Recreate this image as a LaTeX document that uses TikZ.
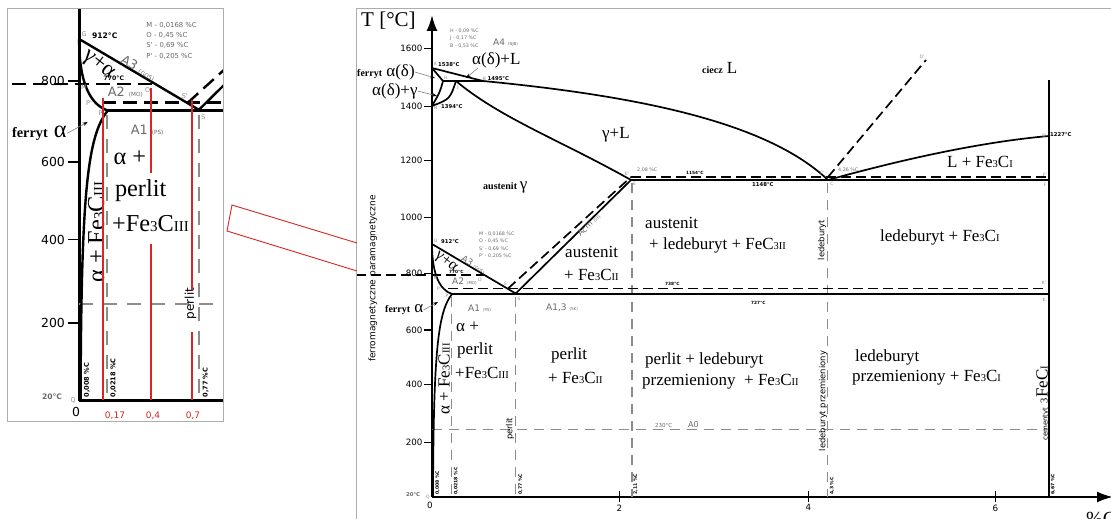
\documentclass[tikz,border=0pt]{standalone}
\usepackage{fontspec}
\setmainfont{Liberation Serif}
\newfontfamily\dvs{DejaVu Sans}
\usetikzlibrary{arrows.meta}

\definecolor{dgray}{gray}{0.42}
\definecolor{lgray}{gray}{0.55}
\definecolor{framec}{gray}{0.68}
\definecolor{ired}{RGB}{214,38,38}

\newcommand\subsz[1]{{\fontsize{10.5}{12}\selectfont #1}}
\newcommand\tinysz[1]{{\fontsize{4}{5}\selectfont #1}}

\tikzset{
  ax/.style={line width=2.2pt},
  tickln/.style={line width=1.2pt},
  phase/.style={line width=1.7pt},
  bdash/.style={line width=1.7pt, dash pattern=on 10pt off 5pt},
  gdash/.style={line width=1.3pt, draw=lgray, dash pattern=on 10pt off 7pt},
  big/.style={font=\fontsize{17}{20}\selectfont, inner sep=0pt, anchor=west},
  ptl/.style={font=\dvs\fontsize{4.5}{5}\selectfont, text=lgray, inner sep=0pt},
  tmp/.style={font=\dvs\bfseries\fontsize{5.3}{6}\selectfont, inner sep=0pt, anchor=west},
  tmps/.style={font=\dvs\bfseries\fontsize{4.3}{5}\selectfont, inner sep=0pt, anchor=west},
  note/.style={font=\dvs\fontsize{4.8}{6}\selectfont, text=dgray, inner sep=0pt, anchor=west},
  pct/.style={font=\dvs\bfseries\fontsize{4.6}{5}\selectfont, inner sep=0pt, rotate=90, anchor=west},
  ytick/.style={font=\dvs\fontsize{8.7}{10}\selectfont, inner sep=1pt, anchor=east},
  xtick/.style={font=\dvs\fontsize{8.7}{10}\selectfont, inner sep=0pt},
  crit/.style={font=\dvs\fontsize{9}{10}\selectfont, text=dgray, inner sep=0pt, anchor=west},
  side/.style={font=\dvs\fontsize{8.4}{10}\selectfont, inner sep=0pt, rotate=90},
  lead/.style={line width=0.6pt, draw=gray, -{Stealth[length=5pt,width=3.5pt,color=black]}},
  redln/.style={draw=ired, line width=2.6pt},
}

% The iron-carbon diagram; #1 prefixes every name so it can be drawn twice
\newcommand\fediagram[1]{%
  % characteristic points
  \coordinate (#1A) at (432,68);
  \coordinate (#1H) at (443,81);
  \coordinate (#1J) at (456,81);
  \coordinate (#1B) at (483,81);
  \coordinate (#1N) at (432,106);
  \coordinate (#1E) at (631,180);
  \coordinate (#1Ep) at (631,177);
  \coordinate (#1C) at (828,180);
  \coordinate (#1Cp) at (828,177);
  \coordinate (#1F) at (1049,180);
  \coordinate (#1Fp) at (1049,177);
  \coordinate (#1D) at (1049,136);
  \coordinate (#1Dp) at (926,60);
  \coordinate (#1G) at (432,244);
  \coordinate (#1S) at (515.7,293.5);
  \coordinate (#1Sp) at (508,288.5);
  \coordinate (#1P) at (452,294);
  \coordinate (#1Pp) at (448,288.5);
  \coordinate (#1K) at (1049,294);
  \coordinate (#1Kp) at (1049,288.5);
  \coordinate (#1O) at (485,275.3);
  \coordinate (#1Mw) at (356,275.3);
  \coordinate (#1Q) at (433,497);
  \coordinate (#1cb) at (1049,497);
  \coordinate (#1ct) at (1049,80);
  % axes
  \coordinate (#1o) at (432,497);
  \coordinate (#1yt) at (432,15);
  \coordinate (#1xt) at (1113,497);
  \draw[ax, -{Latex[length=16pt,width=11pt]}] (#1o) -- (#1yt);
  \draw[ax, -{Latex[length=16pt,width=11pt]}] (#1o) -- (#1xt);
  \foreach \t/\y in {1600/48.7,1400/106.7,1200/160.7,1000/217.3,800/273.3,600/330,400/384.3,200/442.7}
    {\draw[tickln] (424,\y) -- (432,\y) node[ytick, pos=0, name=#1y\t] {\t};}
  \foreach \t/\x in {2/619.3,4/808.3,6/995.3}
    {\draw[tickln] (\x,491) -- (\x,502) node[xtick, below=2pt, name=#1x\t] {\t};}
  \node[xtick] (#1x0) at (430,505) {0};
  \node[font=\fontsize{21}{24}\selectfont, inner sep=0pt, anchor=west] (#1Tl) at (361,21) {T [°C]};
  \node[font=\fontsize{20}{24}\selectfont, inner sep=0pt, anchor=west] (#1Cl) at (1086,519) {\%C};
  % reference lines (grey, dashed)
  \coordinate (#1g1t) at (451.7,297); \coordinate (#1g1b) at (451.7,497);
  \coordinate (#1g2t) at (515.7,297); \coordinate (#1g2b) at (515.7,497);
  \coordinate (#1g3t) at (632,183);   \coordinate (#1g3b) at (632,497);
  \coordinate (#1g4t) at (827.7,183); \coordinate (#1g4b) at (827.7,497);
  \coordinate (#1g5l) at (432,429.3); \coordinate (#1g5r) at (1049,429.3);
  \draw[gdash] (#1g1t) -- (#1g1b);
  \draw[gdash] (#1g2t) -- (#1g2b);
  \draw[gdash] (#1g3t) -- (#1g3b);
  \draw[gdash] (#1g4t) -- (#1g4b);
  \draw[gdash] (#1g5l) -- (#1g5r);
  % phase boundaries
  \draw[phase] (#1A) -- (#1H) .. controls (440,92) .. (#1N);
  \draw[phase] (#1H) -- (#1B);
  \draw[phase] (#1N) .. controls (450,99) .. (#1J);
  \draw[phase] (#1A) -- (#1B) .. controls (650,97) and (770,125) .. (#1C);
  \draw[phase] (#1J) .. controls (500,118) and (560,140) .. (#1E);
  \draw[phase] (#1E) -- (#1F);
  \draw[bdash] (#1Ep) -- (#1Fp);
  \draw[phase] (#1C) .. controls (900,160) and (980,142) .. (#1D);
  \draw[bdash] (#1Cp) -- (#1Dp);
  \draw[phase] (#1cb) -- (#1ct);
  \draw[phase] (#1G) -- (#1S) -- (#1E);
  \draw[bdash] (#1Sp) -- (#1Ep);
  \draw[phase] (#1G) .. controls (432,275) and (440,290) .. (#1P)
               .. controls (438,312) and (433.5,350) .. (#1Q);
  \draw[phase] (#1P) -- (#1K);
  \draw[bdash] (#1Pp) -- (#1Kp);
  \draw[bdash] (#1Mw) -- (#1O);
  % phase fields
  \node[big] (#1fa) at (456,327) {α +};
  \node[big] (#1fb) at (457,350) {perlit};
  \node[big] (#1fc) at (455,373) {+Fe\subsz{3}C\subsz{III}};
  \node[big, rotate=90, anchor=center] (#1fd) at (444,379) {α + Fe\subsz{3}C\subsz{III}};
  \node[big] (#1fe) at (551,355) {perlit};
  \node[big] (#1ff) at (548,378) {+ Fe\subsz{3}C\subsz{II}};
  \node[big] (#1fg) at (565,252) {austenit};
  \node[big] (#1fh) at (564,275) {+ Fe\subsz{3}C\subsz{II}};
  \node[big] (#1fi) at (645,223) {austenit};
  \node[big] (#1fj) at (649,245) {+ ledeburyt + FeC\subsz{3II}};
  \node[big] (#1fk) at (880,237) {ledeburyt + Fe\subsz{3}C\subsz{I}};
  \node[big] (#1fl) at (645,360) {perlit + ledeburyt};
  \node[big] (#1fm) at (642,382) {przemieniony \ + Fe\subsz{3}C\subsz{II}};
  \node[big] (#1fn) at (855,357) {ledeburyt};
  \node[big] (#1fo) at (852,378) {przemieniony + Fe\subsz{3}C\subsz{I}};
  \node[big] (#1fp) at (947,162) {L + Fe\subsz{3}C\subsz{I}};
  \node[big] (#1fq) at (602,135) {γ+L};
  \node[big] (#1fr) at (702,68) {{\bfseries\fontsize{10}{12}\selectfont ciecz} L};
  \node[big] (#1fs) at (483,187) {{\bfseries\fontsize{10}{12}\selectfont austenit}\,γ};
  \node[big] (#1ft) at (472,60) {α(δ)+L};
  \node[big] (#1fu) at (357,72) {{\bfseries\fontsize{10}{12}\selectfont ferryt} α(δ)};
  \node[big] (#1fv) at (372,91) {α(δ)+γ};
  \node[big] (#1fw) at (385,310) {{\bfseries\fontsize{10}{12}\selectfont ferryt} α};
  \node[font=\fontsize{16}{18}\selectfont, inner sep=0pt, rotate=-38] (#1fx) at (446,262) {γ+α};
  % leaders to the narrow fields
  \coordinate (#1la) at (435,78);
  \coordinate (#1lb) at (437,96);
  \coordinate (#1lc) at (466,78);
  \coordinate (#1ld) at (438,302);
  \draw[lead] (#1fu.east) -- (#1la);
  \draw[lead] (#1fv.east) -- (#1lb);
  \draw[lead] ([xshift=6pt]#1ft.south west) -- (#1lc);
  \draw[lead] (#1fw.east) -- (#1ld);
  % point letters and temperatures
  \node[ptl] (#1pA) at (435.5,64) {A};
  \node[tmp] (#1tA) at (438,64.5) {1538°C};
  \node[ptl] (#1pH) at (445.5,78) {H};
  \node[ptl] (#1pJ) at (458,87) {J};
  \node[ptl] (#1pB) at (484.5,79) {B};
  \node[tmp] (#1tB) at (487.5,79) {1495°C};
  \node[ptl] (#1pN) at (435.5,108) {N};
  \node[tmp] (#1tN) at (441,107) {1394°C};
  \node[ptl] (#1pG) at (435.5,241) {G};
  \node[tmp] (#1tG) at (441,242) {912°C};
  \node[tmps] (#1tM) at (449,271.5) {770°C};
  \node[ptl] (#1pM) at (435.5,278) {M};
  \node[ptl] (#1pO) at (480,280) {O};
  \node[ptl] (#1pSp) at (506,284) {S'};
  \node[ptl] (#1pPp) at (439,289) {P'};
  \node[ptl] (#1pP) at (447,296) {P};
  \node[ptl] (#1pS) at (519,299) {S};
  \node[ptl] (#1pEp) at (627,174) {E'};
  \node[ptl] (#1pE) at (634.5,184) {E};
  \node[ptl] (#1pCp) at (822,173) {C'};
  \node[ptl] (#1pC) at (832,184) {C};
  \node[ptl] (#1pFp) at (1045,175) {F'};
  \node[ptl] (#1pF) at (1045,185) {F};
  \node[ptl] (#1pKp) at (1044,283) {K'};
  \node[ptl] (#1pK) at (1044,300) {K};
  \node[ptl] (#1pD) at (1044,136) {D};
  \node[tmp] (#1tD) at (1050,135) {1227°C};
  \node[ptl] (#1pDp) at (922,57) {D'};
  \node[ptl] (#1pQ) at (428,497) {Q};
  \node[tmp, text=dgray] (#1tQ) at (406,494.5) {20°C};
  \node[tmps] (#1tEp) at (686,173) {1154°C};
  \node[tmp] (#1tE) at (752,185) {1148°C};
  \node[tmps] (#1tSp) at (665,284) {738°C};
  \node[tmps] (#1tS) at (751,302.5) {727°C};
  \node[note] (#1cE) at (637,170) {2,08 \%C};
  \node[note] (#1cC) at (838,170) {4,26 \%C};
  % composition notes
  \node[note] (#1nH) at (450,30.7) {H - 0,09 \%C};
  \node[note] (#1nJ) at (450,38.3) {J - 0,17 \%C};
  \node[note] (#1nB) at (450,45.7) {B - 0,53 \%C};
  \node[note] (#1nM) at (479,234.3) {M - 0,0168 \%C};
  \node[note] (#1nO) at (479,241.3) {O - 0,45 \%C};
  \node[note] (#1nS) at (479,248.7) {S' - 0,69 \%C};
  \node[note] (#1nP) at (479,256) {P' - 0,205 \%C};
  % critical lines
  \node[crit] (#1a4) at (493,43) {A4 \tinysz{(NJB)}};
  \node[crit, rotate=-31] (#1a3) at (462,257.5) {A3 \tinysz{(GOS)}};
  \node[crit] (#1a2) at (452,281) {A2 \tinysz{(MO)}};
  \node[crit] (#1a1) at (468,308) {A1 \tinysz{(PS)}};
  \node[crit] (#1a13) at (546,308) {A1,3 \tinysz{(SK)}};
  \node[crit, font=\dvs\fontsize{8}{9}\selectfont, rotate=44, anchor=center] (#1acm) at (589,225) {Acm \tinysz{(SE)}};
  \node[note, font=\dvs\fontsize{5.5}{6}\selectfont] (#1t0) at (655,425) {230°C};
  \node[crit, font=\dvs\fontsize{8}{9}\selectfont] (#1a0) at (688,424.5) {A0};
  % compositions along the axis
  \node[pct] (#1c1) at (437.5,495) {0,008 \%C};
  \node[pct] (#1c2) at (456,495) {0,0218 \%C};
  \node[pct] (#1c3) at (520.5,495) {0,77 \%C};
  \node[pct] (#1c4) at (635.5,495) {2,11 \%C};
  \node[pct] (#1c5) at (832,495) {4,3 \%C};
  \node[pct] (#1c6) at (1053,495) {6,67 \%C};
  % structures along the vertical lines
  \node[side] (#1s1) at (510,429) {perlit};
  \node[side] (#1s2) at (822,240) {ledeburyt};
  \node[side] (#1s3) at (823,401) {ledeburyt przemieniony};
  \node[side, font=\dvs\fontsize{9}{10}\selectfont] (#1s4) at (373,278.5) {ferromagnetyczne paramagnetyczne};
  \node[font=\fontsize{17}{20}\selectfont, inner sep=0pt, rotate=90, anchor=base west] (#1s5) at (1047.5,441)
    {{\dvs\fontsize{7}{8}\selectfont cementyt} \subsz{3}FeC\subsz{I}};
}

\begin{document}
\begin{tikzpicture}[x=1pt, y=-1pt]
  \useasboundingbox (0,0) rectangle (1111,519);
  \fill[white] (0,0) rectangle (1111,519);

  % main chart
  \fediagram{m}
  \coordinate (bl) at (356,530);
  \coordinate (tl) at (356,9);
  \coordinate (tr) at (1120,9);
  \draw[framec, line width=1pt] (bl) -- (tl) -- (tr);

  % enlarged detail of the low-carbon corner
  \begin{scope}
    \clip (7,9) rectangle (223,421);
    \begin{scope}[shift={(-538.76pt,310pt)}, scale=1.43, transform shape,
        ax/.style={line width=3.1pt},
        tickln/.style={line width=1.7pt},
        phase/.style={line width=2.4pt},
        bdash/.style={line width=2.4pt, dash pattern=on 14pt off 7pt},
        gdash/.style={line width=1.8pt, draw=lgray, dash pattern=on 14pt off 10pt}]
      \fediagram{i}
    \end{scope}
    \coordinate (r1t) at (103,98);  \coordinate (r1b) at (103,400);
    \coordinate (r2t) at (151,88);  \coordinate (r2m) at (151,173);
    \coordinate (r2n) at (151,244); \coordinate (r2b) at (151,400);
    \coordinate (r3t) at (192,100); \coordinate (r3m) at (192,290);
    \coordinate (r3n) at (192,332); \coordinate (r3b) at (192,400);
    \draw[redln] (r1t) -- (r1b);
    \draw[redln] (r2t) -- (r2m);
    \draw[redln] (r2n) -- (r2b);
    \draw[redln] (r3t) -- (r3m);
    \draw[redln] (r3n) -- (r3b);
    \node[font=\dvs\fontsize{9}{10}\selectfont, text=ired, inner sep=0pt] (v1) at (115,416) {0,17};
    \node[font=\dvs\fontsize{9}{10}\selectfont, text=ired, inner sep=0pt] (v2) at (153,416) {0,4};
    \node[font=\dvs\fontsize{9}{10}\selectfont, text=ired, inner sep=0pt] (v3) at (193,416) {0,7};
  \end{scope}
  \coordinate (f1) at (7,9);
  \coordinate (f2) at (223,421);
  \draw[framec, line width=1pt] (f1) rectangle (f2);

  % link from the detail to the chart
  \coordinate (k1) at (357,243);
  \coordinate (k2) at (232,205);
  \coordinate (k3) at (227,231);
  \coordinate (k4) at (357,271);
  \draw[ired, line width=0.9pt] (k1) -- (k2) -- (k3) -- (k4);
\end{tikzpicture}
\end{document}
